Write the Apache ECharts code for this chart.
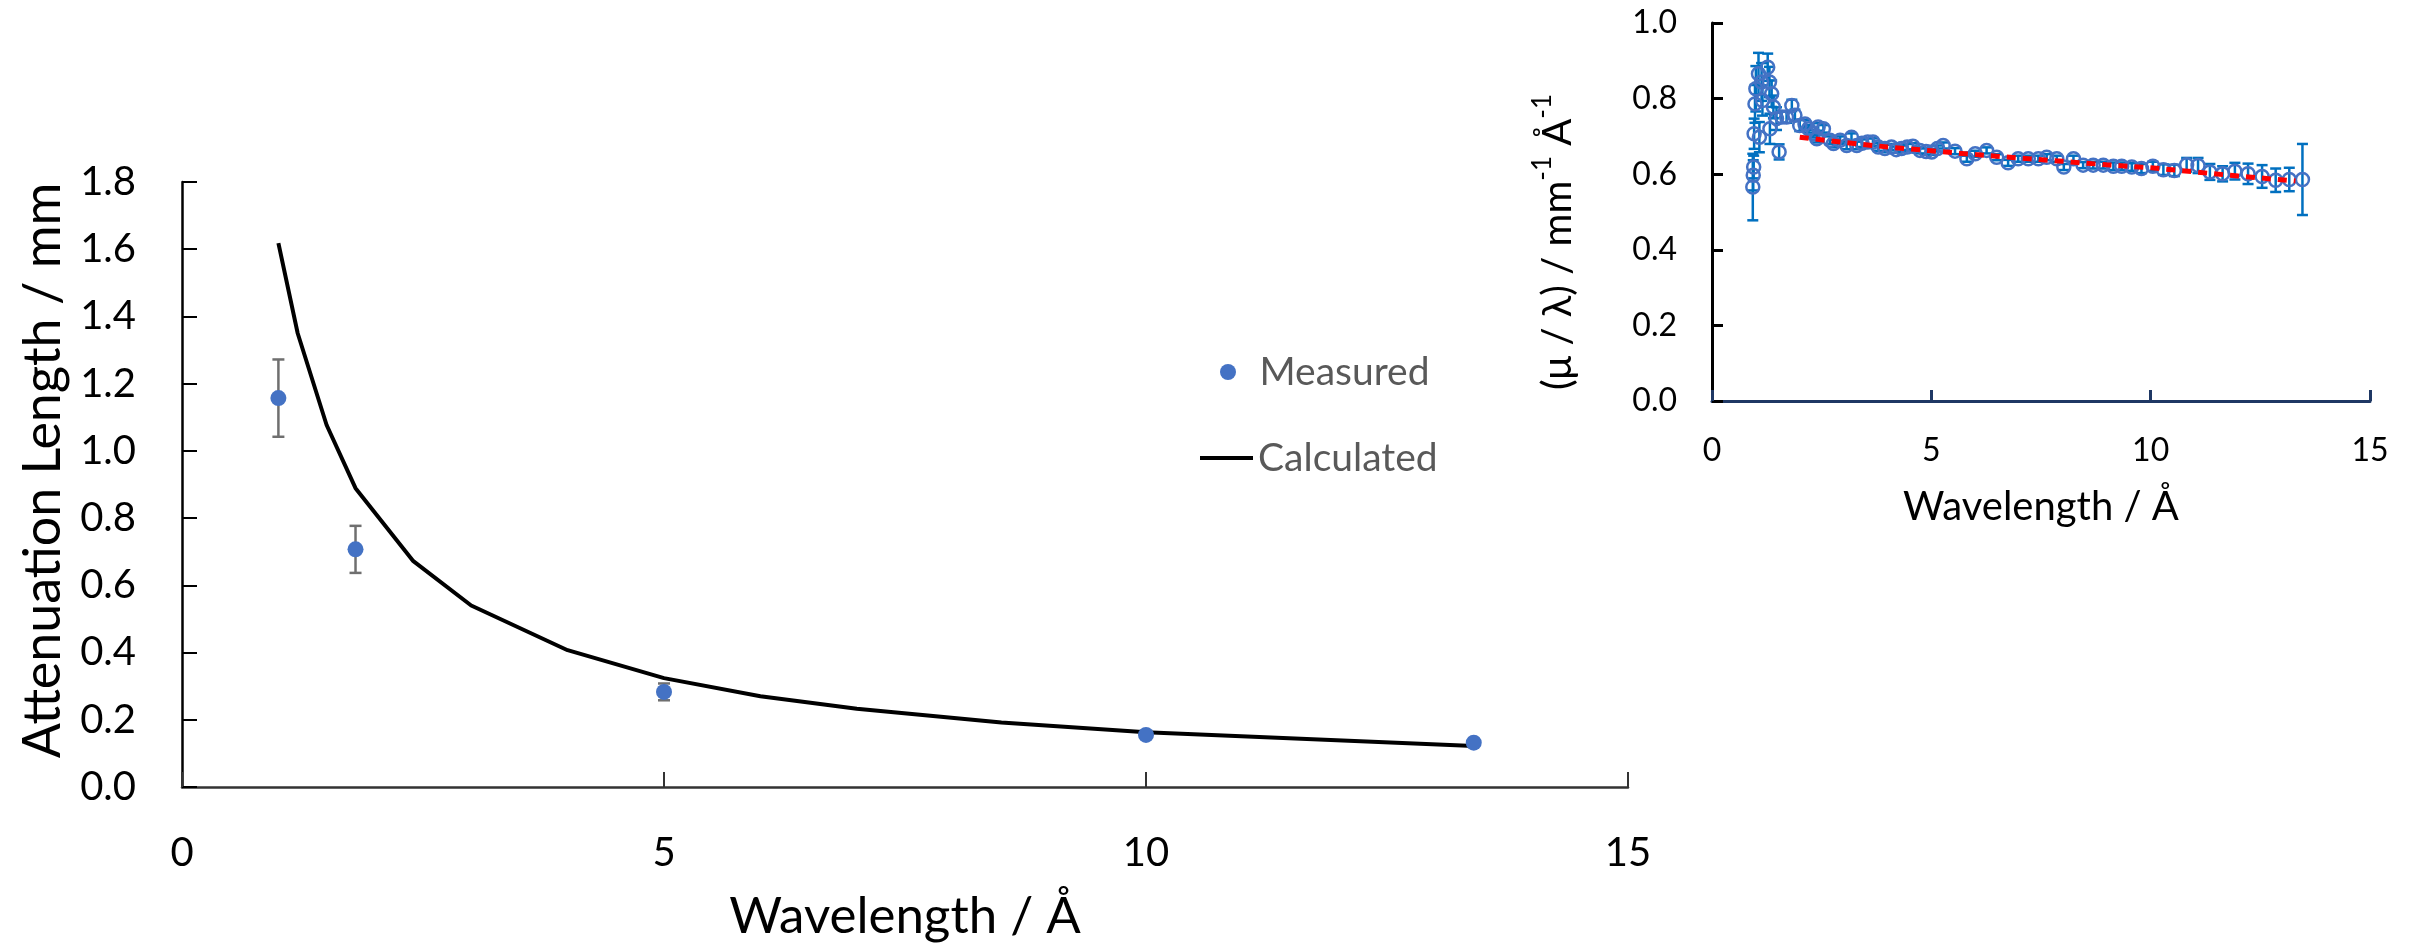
<!DOCTYPE html>
<html>
<head>
<meta charset="utf-8">
<title>Attenuation length</title>
<script src="https://cdn.jsdelivr.net/npm/echarts@6/dist/echarts.min.js"></script>
<style>
  html, body { margin: 0; padding: 0; background: #fff; }
  #chart { width: 2415px; height: 947px; }
</style>
</head>
<body>
<div id="chart"></div>
<script>
// main chart: measured points with error bars, calculated curve
var measX = [1.0, 1.8, 5.0, 10.0, 13.4];
var measY = [1.157, 0.707, 0.283, 0.155, 0.132];
var measErr = [0.115, 0.07, 0.025, 0.009, 0.005];

var calcX = [1.0, 1.2, 1.5, 1.8, 2.4, 3.0, 4.0, 5.0, 6.0, 7.0, 8.5, 10.0, 13.4];
var calcY = [1.618, 1.35, 1.077, 0.889, 0.672, 0.54, 0.407, 0.324, 0.27, 0.233, 0.192, 0.163, 0.122];

// inset: mu/lambda vs wavelength
var insetX = [0.93, 0.94, 0.95, 0.96, 0.98, 1.0, 1.06, 1.08, 1.13, 1.15, 1.27, 1.31, 1.32, 1.36, 1.40,
  1.47, 1.53, 1.59, 1.70, 1.82, 1.89, 2.0, 2.12, 2.2, 2.31, 2.39, 2.42, 2.54, 2.69, 2.77, 2.92,
  3.07, 3.18, 3.3, 3.42, 3.55, 3.67, 3.79, 3.94, 4.09, 4.2, 4.32, 4.45, 4.58, 4.74, 4.88, 5.01, 5.14, 5.27,
  5.54, 5.81, 6.0, 6.26, 6.49, 6.75, 6.98, 7.21, 7.44, 7.63, 7.86, 8.02, 8.24, 8.46, 8.69, 8.92,
  9.15, 9.34, 9.57, 9.79, 10.05, 10.29, 10.54, 10.82, 11.08, 11.35, 11.64, 11.92, 12.22, 12.54,
  12.85, 13.16, 13.46];
var insetY = [0.566, 0.597, 0.619, 0.707, 0.786, 0.826, 0.866, 0.698, 0.844, 0.795, 0.883, 0.844, 0.72, 0.813, 0.778,
  0.747, 0.659, 0.751, 0.751, 0.782, 0.756, 0.729, 0.733, 0.72, 0.707, 0.694, 0.725, 0.72, 0.69, 0.681, 0.69,
  0.676, 0.698, 0.676, 0.682, 0.685, 0.685, 0.672, 0.668, 0.672, 0.665, 0.668, 0.672, 0.674, 0.663, 0.66, 0.659, 0.668, 0.676,
  0.661, 0.641, 0.654, 0.663, 0.645, 0.63, 0.641, 0.641, 0.641, 0.645, 0.641, 0.619, 0.641, 0.624, 0.624, 0.624,
  0.621, 0.621, 0.619, 0.615, 0.621, 0.612, 0.61, 0.625, 0.623, 0.606, 0.601, 0.608, 0.601, 0.594,
  0.584, 0.586, 0.586];
var insetErr = [0.088, 0.04, 0.03, 0.04, 0.05, 0.06, 0.055, 0.04, 0.05, 0.04, 0.036, 0.04, 0.04, 0.035, 0.03,
  0.03, 0.02, 0.015, 0.015, 0.015, 0.015, 0.015, 0.01, 0.01, 0.01, 0.01, 0.01, 0.01, 0.01, 0.01, 0.01,
  0.01, 0.01, 0.01, 0.01, 0.01, 0.01, 0.01, 0.01, 0.008, 0.008, 0.008, 0.008, 0.008, 0.008, 0.008, 0.008, 0.008, 0.008,
  0.008, 0.008, 0.008, 0.008, 0.008, 0.008, 0.008, 0.008, 0.008, 0.008, 0.008, 0.008, 0.008, 0.008, 0.009, 0.009,
  0.01, 0.01, 0.01, 0.012, 0.012, 0.014, 0.015, 0.018, 0.02, 0.021, 0.02, 0.022, 0.027, 0.03,
  0.031, 0.031, 0.094];

var insetCalcX = [2.0, 3.0, 4.0, 5.0, 6.0, 7.0, 8.0, 9.0, 10.0, 11.0, 12.0, 13.3];
var insetCalcY = [0.698, 0.684, 0.672, 0.662, 0.652, 0.643, 0.634, 0.625, 0.617, 0.606, 0.595, 0.582];

var FONT = 'Lato';

function zip() {
  var cols = arguments, out = [];
  for (var i = 0; i < cols[0].length; i++) {
    var row = [];
    for (var j = 0; j < cols.length; j++) row.push(cols[j][i]);
    out.push(row);
  }
  return out;
}

function errorBars(color, width, cap) {
  return function (params, api) {
    var x = api.value(0), y = api.value(1), e = api.value(2);
    var top = api.coord([x, y + e]);
    var bot = api.coord([x, y - e]);
    var st = { stroke: color, lineWidth: width };
    return {
      type: 'group',
      children: [
        { type: 'line', shape: { x1: top[0], y1: top[1], x2: bot[0], y2: bot[1] }, style: st },
        { type: 'line', shape: { x1: top[0] - cap / 2, y1: top[1], x2: top[0] + cap / 2, y2: top[1] }, style: st },
        { type: 'line', shape: { x1: bot[0] - cap / 2, y1: bot[1], x2: bot[0] + cap / 2, y2: bot[1] }, style: st }
      ]
    };
  };
}

var chart = echarts.init(document.getElementById('chart'));

var legendText = { fontFamily: FONT, fontSize: 39, color: '#595959', lineHeight: 40 };

var option = {
  backgroundColor: '#fff',
  animation: false,
  textStyle: { fontFamily: FONT },
  grid: [
    { left: 182, top: 182, width: 1446, height: 606 },
    { left: 1712, top: 23, width: 658, height: 378 }
  ],
  legend: [
    {
      data: ['Measured'],
      left: 1215, top: 347,
      itemWidth: 53, itemHeight: 16,
      textStyle: legendText
    },
    {
      data: [{ name: 'Calculated', icon: 'rect' }],
      left: 1195, top: 433,
      itemWidth: 53, itemHeight: 4,
      itemStyle: { color: '#000' },
      textStyle: legendText
    }
  ],
  xAxis: [
    {
      gridIndex: 0, type: 'value', min: 0, max: 15, interval: 5,
      name: 'Wavelength / Å', nameLocation: 'middle', nameGap: 104,
      nameTextStyle: { fontFamily: FONT, fontSize: 51, color: '#000' },
      axisLine: { lineStyle: { color: '#333', width: 2.5 } },
      axisTick: { inside: true, length: 15, lineStyle: { color: '#333', width: 2 } },
      axisLabel: { fontFamily: FONT, fontSize: 40, color: '#000', margin: 46 },
      splitLine: { show: false }
    },
    {
      gridIndex: 1, type: 'value', min: 0, max: 15, interval: 5,
      name: 'Wavelength / Å', nameLocation: 'middle', nameGap: 86,
      nameTextStyle: { fontFamily: FONT, fontSize: 40, color: '#000' },
      axisLine: { lineStyle: { color: '#1F3864', width: 3 } },
      axisTick: { inside: true, length: 11, lineStyle: { color: '#1F3864', width: 3 } },
      axisLabel: { fontFamily: FONT, fontSize: 32, color: '#000', margin: 34 },
      splitLine: { show: false }
    }
  ],
  yAxis: [
    {
      gridIndex: 0, type: 'value', min: 0, max: 1.8, interval: 0.2,
      name: 'Attenuation Length / mm', nameLocation: 'middle', nameGap: 112,
      nameTextStyle: { fontFamily: FONT, fontSize: 52, color: '#000', padding: [0, 0, 0, 28] },
      axisLine: { show: true, lineStyle: { color: '#000', width: 2.5 } },
      axisTick: { show: true, inside: true, length: 15, lineStyle: { color: '#000', width: 2 } },
      axisLabel: { fontFamily: FONT, fontSize: 40, color: '#000', margin: 46,
        formatter: function (v) { return v.toFixed(1); } },
      splitLine: { show: false }
    },
    {
      gridIndex: 1, type: 'value', min: 0, max: 1.0, interval: 0.2,
      name: '(μ / λ) / mm{sup|-1} Å{sup|-1}', nameLocation: 'middle', nameGap: 126,
      nameTextStyle: {
        fontFamily: FONT, fontSize: 40, color: '#000', lineHeight: 56, padding: [0, 60, 0, 0],
        rich: { sup: { fontFamily: FONT, fontSize: 26, verticalAlign: 'top', lineHeight: 26 } }
      },
      axisLine: { show: true, lineStyle: { color: '#000', width: 3 } },
      axisTick: { show: true, inside: true, length: 11, lineStyle: { color: '#000', width: 3 } },
      axisLabel: { fontFamily: FONT, fontSize: 32, color: '#000', margin: 35,
        formatter: function (v) { return v.toFixed(1); } },
      splitLine: { show: false }
    }
  ],
  series: [
    {
      name: 'Calculated', type: 'line', xAxisIndex: 0, yAxisIndex: 0,
      data: zip(calcX, calcY), symbol: 'none',
      lineStyle: { color: '#000', width: 4 }, itemStyle: { color: '#000' }, z: 3
    },
    {
      name: 'MeasuredErr', type: 'custom', xAxisIndex: 0, yAxisIndex: 0,
      data: zip(measX, measY, measErr), renderItem: errorBars('#6f6f6f', 2.5, 12), z: 4
    },
    {
      name: 'Measured', type: 'scatter', xAxisIndex: 0, yAxisIndex: 0,
      data: zip(measX, measY), symbol: 'circle', symbolSize: 16,
      itemStyle: { color: '#4472C4', opacity: 1 }, z: 5
    },
    {
      name: 'InsetErr', type: 'custom', xAxisIndex: 1, yAxisIndex: 1,
      data: zip(insetX, insetY, insetErr), renderItem: errorBars('#0070C0', 2.5, 11), z: 4
    },
    {
      name: 'InsetData', type: 'scatter', xAxisIndex: 1, yAxisIndex: 1,
      data: zip(insetX, insetY), symbol: 'circle', symbolSize: 13,
      itemStyle: { color: 'rgba(255,255,255,0)', borderColor: '#4472C4', borderWidth: 2.5, opacity: 1 }, z: 5
    },
    {
      name: 'InsetCalc', type: 'line', xAxisIndex: 1, yAxisIndex: 1,
      data: zip(insetCalcX, insetCalcY), symbol: 'none',
      lineStyle: { color: '#FF0000', width: 5, type: [9, 7] }, z: 6
    }
  ]
};

chart.setOption(option);
</script>
</body>
</html>
